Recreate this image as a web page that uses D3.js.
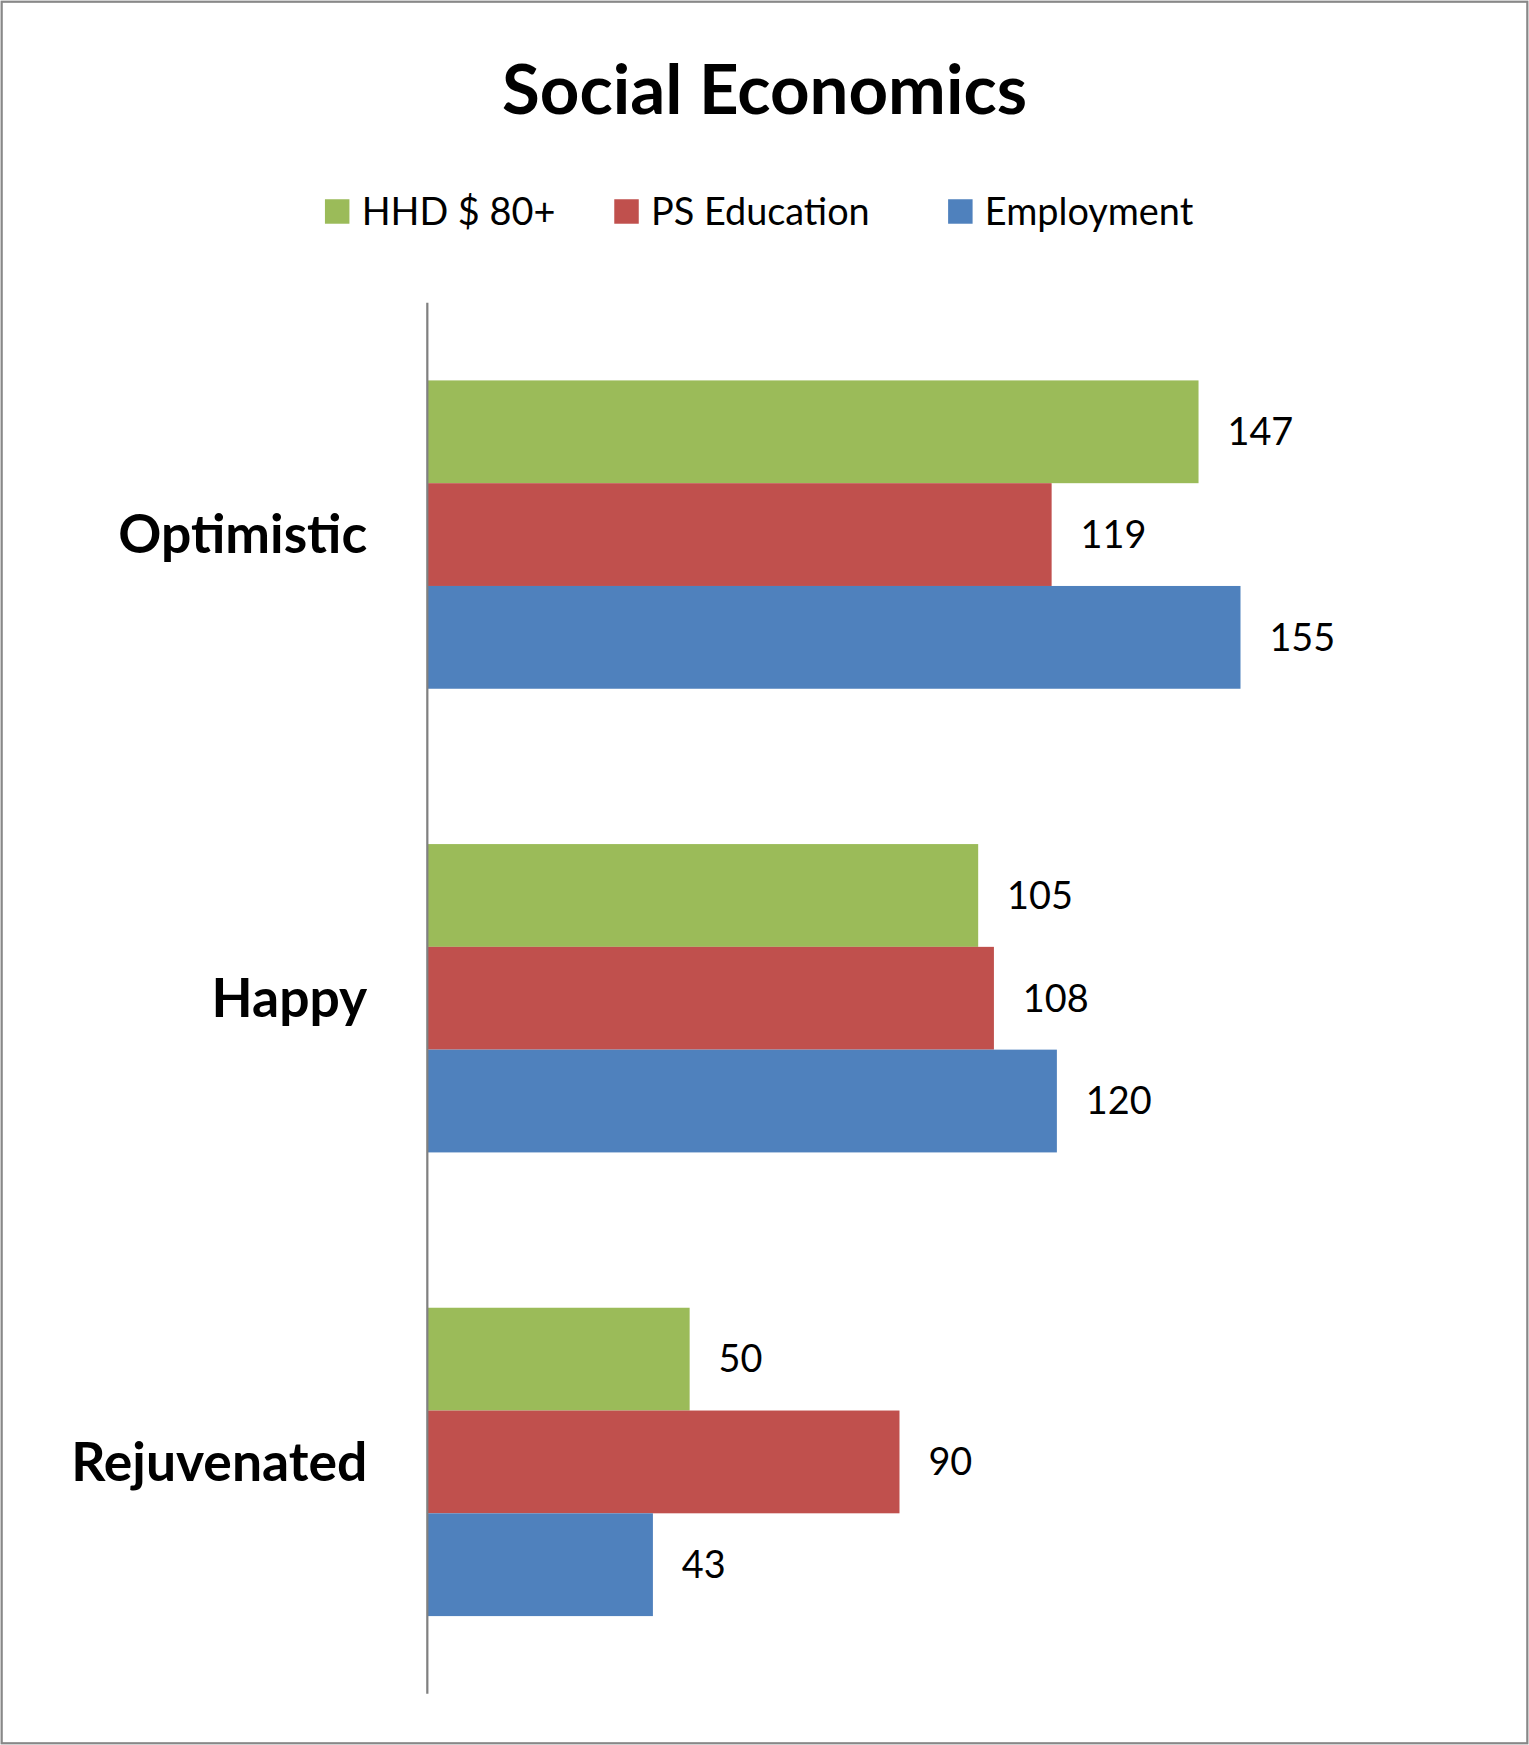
<!DOCTYPE html><html><head><meta charset="utf-8">
<script src="https://cdn.jsdelivr.net/npm/d3@7"></script>
<style>body{margin:0;background:#fff}svg{display:block}</style></head><body>
<script>
const categories=["Optimistic","Happy","Rejuvenated"];
const seriesNames=["HHD $ 80+","PS Education","Employment"];
const colors=["#9BBB59","#C0504D","#4F81BD"];
const hhd=[147,105,50];
const psEdu=[119,108,90];
const employment=[155,120,43];
const values=[hhd,psEdu,employment];
const W=1374,H=1568;
const svg=d3.select("body").append("svg").attr("width",1529).attr("height",1745).attr("viewBox",`0 0 ${W} ${H}`);
const font="Lato, 'Open Sans', sans-serif";
svg.append("rect").attr("x",1.5).attr("y",1.5).attr("width",W-3).attr("height",H-3).attr("fill","#fff").attr("stroke","#888").attr("stroke-width",2);
svg.append("text").attr("x",687).attr("y",102).attr("text-anchor","middle").attr("font-family",font).attr("font-weight","bold").attr("font-size",62).text("Social Economics");
const y=d3.scaleBand().domain(categories).range([272,1522]).paddingInner(0.335).paddingOuter(0.1675);
const x=d3.scaleLinear().domain([0,200]).range([384,384+942.9]);
const legX=[292,552,852];
seriesNames.forEach((s,i)=>{
 svg.append("rect").attr("x",legX[i]).attr("y",179).attr("width",22).attr("height",22).attr("fill",colors[i]);
 svg.append("text").attr("x",legX[i]+33).attr("y",202).attr("font-family",font).attr("font-size",34).text(s);
});
const sub=d3.scaleBand().domain(d3.range(3)).range([0,y.bandwidth()]);
categories.forEach((c,ci)=>{
 values.forEach((arr,si)=>{
  const yy=y(c)+sub(si);
  svg.append("rect").attr("x",x(0)).attr("y",yy).attr("width",x(arr[ci])-x(0)).attr("height",sub.bandwidth()).attr("fill",colors[si]);
  svg.append("text").attr("x",x(arr[ci])+26).attr("y",yy+sub.bandwidth()/2+12).attr("font-family",font).attr("font-size",34).text(arr[ci]);
 });
 svg.append("text").attr("x",330).attr("y",y(c)+y.bandwidth()/2+17).attr("text-anchor","end").attr("font-family",font).attr("font-weight","bold").attr("font-size",48).text(c);
});
svg.append("line").attr("x1",384).attr("x2",384).attr("y1",272).attr("y2",1522).attr("stroke","#808080").attr("stroke-width",2);
</script></body></html>
